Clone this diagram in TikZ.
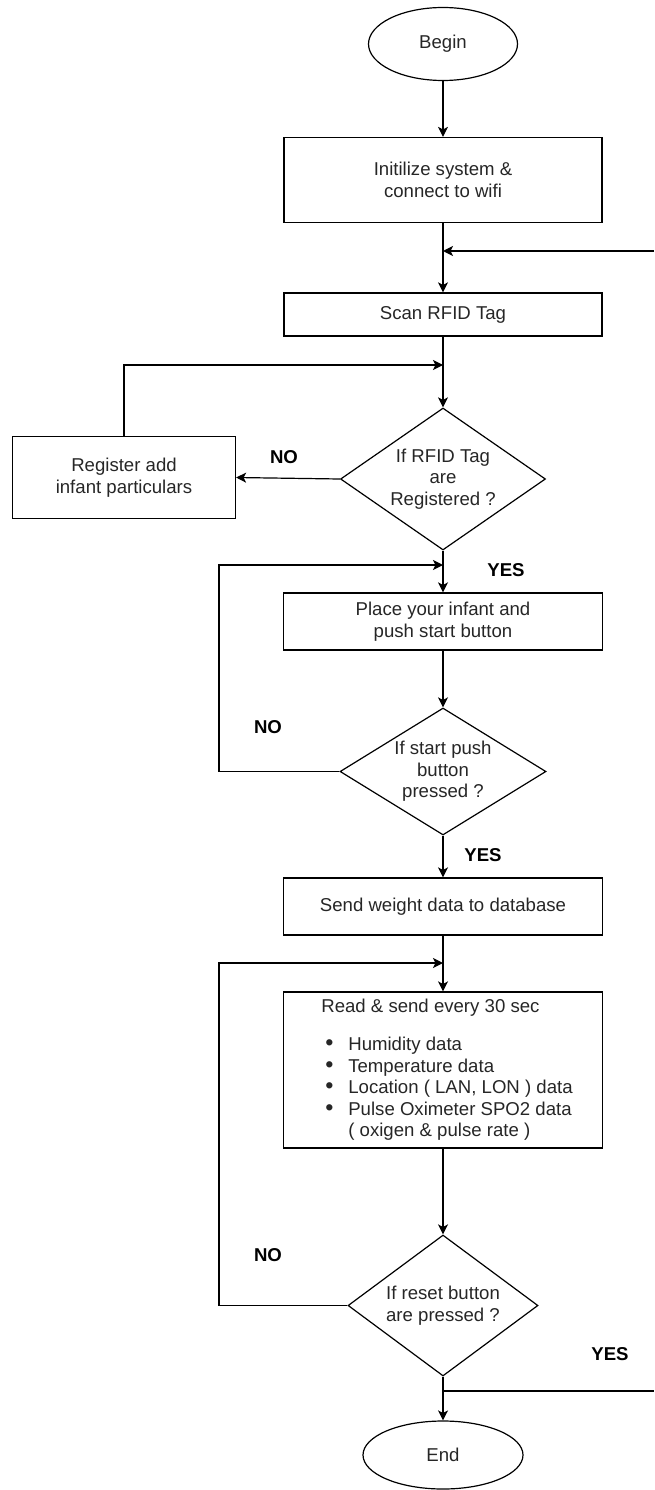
\documentclass[tikz,border=0pt]{standalone}
\usepackage{fontspec}
\setmainfont{Liberation Sans}
\usetikzlibrary{shapes.geometric,arrows.meta}
\begin{document}
\begin{tikzpicture}[x=1pt,y=-1pt,
  every node/.style={font=\fontsize{18.6}{21.5}\selectfont, text=black!85},
  box/.style={draw, line width=1.2pt, rectangle, inner sep=0pt, align=center},
  term/.style={draw, line width=1.2pt, ellipse, inner sep=0pt},
  decision/.style={draw, line width=1.2pt, diamond, inner sep=0pt},
  dtext/.style={align=center, inner sep=0pt},
  lbl/.style={font=\bfseries\fontsize{18.6}{21.5}\selectfont, text=black},
  conn/.style={line width=1.2pt, -{Stealth[length=10pt,width=10pt,inset=2.5pt]}},
  plain/.style={line width=1.2pt},
]
\useasboundingbox (0,0) rectangle (654,1490);

\node[term, minimum width=149pt, minimum height=73pt] (begin) at (443,44) {Begin};
\node[box, minimum width=318pt, minimum height=85pt] (init) at (443,180) {Initilize system \&\\connect to wifi};
\node[box, minimum width=318pt, minimum height=43pt] (scan) at (443,314.5) {Scan RFID Tag};
\node[decision, minimum width=205pt, minimum height=142pt] (d1) at (443,479) {};
\node[dtext] (d1t) at (d1) {If RFID Tag\\are\\Registered ?};
\node[box, minimum width=223pt, minimum height=82pt] (reg) at (124,477.5) {Register add\\infant particulars};
\node[box, minimum width=319pt, minimum height=57pt] (place) at (443,621.5) {Place your infant and\\push start button};
\node[decision, minimum width=206pt, minimum height=127pt] (d2) at (443,771.5) {};
\node[dtext] (d2t) at (d2) {If start push\\button\\pressed ?};
\node[box, minimum width=319pt, minimum height=57pt] (send) at (443,906.5) {Send weight data to database};
\node[box, minimum width=319pt, minimum height=156pt] (read) at (443,1070) {%
\begin{tabular}{@{}l@{}}
\hspace*{8pt}Read \& send every 30 sec\\[17pt]
\makebox[35pt][l]{\hspace{12pt}\scalebox{1.25}{\textbullet}}Humidity data\\
\makebox[35pt][l]{\hspace{12pt}\scalebox{1.25}{\textbullet}}Temperature data\\
\makebox[35pt][l]{\hspace{12pt}\scalebox{1.25}{\textbullet}}Location ( LAN, LON ) data\\
\makebox[35pt][l]{\hspace{12pt}\scalebox{1.25}{\textbullet}}Pulse Oximeter SPO2 data\\
\hspace*{35pt}( oxigen \& pulse rate )
\end{tabular}};
\node[decision, minimum width=190pt, minimum height=141pt] (d3) at (443,1305.5) {};
\node[dtext] (d3t) at (d3) {If reset button\\are pressed ?};
\node[term, minimum width=160pt, minimum height=68pt] (endn) at (443,1455) {End};

\node[lbl] (no1) at (284,457) {NO};
\node[lbl] (yes1) at (506,570) {YES};
\node[lbl] (no2) at (268,727) {NO};
\node[lbl] (yes2) at (483,855) {YES};
\node[lbl] (no3) at (268,1255) {NO};
\node[lbl] (yes3) at (610,1354) {YES};

\coordinate (r1) at (654,251);
\coordinate (j1) at (443,251);
\coordinate (j2) at (443,365);
\coordinate (c2) at (219,565);
\coordinate (j3) at (443,565);
\coordinate (c3) at (219,963);
\coordinate (j4) at (443,963);
\coordinate (j5) at (443,1391);
\coordinate (r2) at (654,1391);

\draw[conn] (begin) -- (init);
\draw[conn] (init) -- (scan);
\draw[conn] (r1) -- (j1);
\draw[conn] (scan) -- (d1);
\draw[conn] (reg.north) |- (j2);
\draw[conn] (d1.west) -- (reg.east);
\draw[conn] (d1.south) -- (place.north);
\draw[conn] (d2.west) -| (c2) -- (j3);
\draw[conn] (place) -- (d2);
\draw[conn] (d2) -- (send);
\draw[conn] (send) -- (read);
\draw[conn] (d3.west) -| (c3) -- (j4);
\draw[conn] (read) -- (d3);
\draw[conn] (d3) -- (endn);
\draw[plain] (j5) -- (r2);
\end{tikzpicture}
\end{document}
